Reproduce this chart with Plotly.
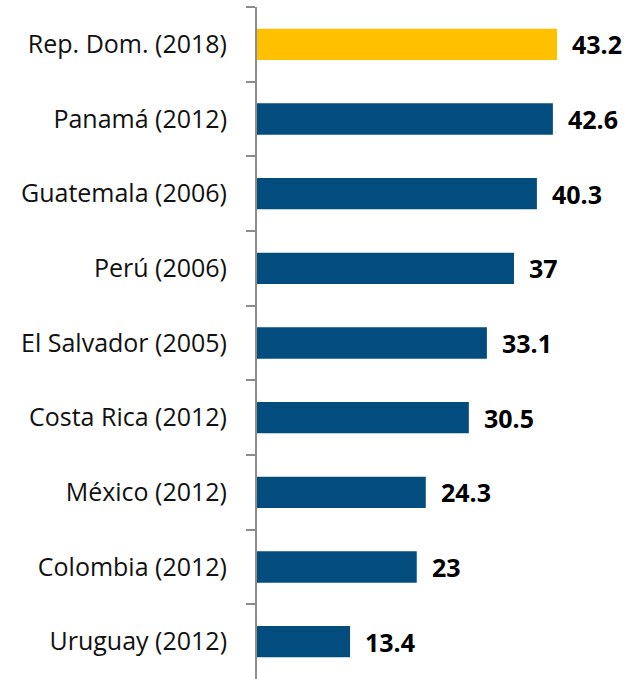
import plotly.graph_objects as go

countries = [
    "Rep. Dom. (2018)",
    "Panamá (2012)",
    "Guatemala (2006)",
    "Perú (2006)",
    "El Salvador (2005)",
    "Costa Rica (2012)",
    "México (2012)",
    "Colombia (2012)",
    "Uruguay (2012)",
]
values = [43.2, 42.6, 40.3, 37, 33.1, 30.5, 24.3, 23, 13.4]
highlight = "Rep. Dom. (2018)"

bar_colors = ["#FFC000" if c == highlight else "#024C7E" for c in countries]

fig = go.Figure(
    go.Bar(
        x=values,
        y=countries,
        orientation="h",
        marker=dict(color=bar_colors, line=dict(width=0)),
        width=0.42,
        hoverinfo="skip",
    )
)

# value labels to the right of each bar
for c, v in zip(countries, values):
    fig.add_annotation(
        x=v, y=c, text=f"<b>{v:g}</b>", showarrow=False,
        xanchor="left", yanchor="middle", xshift=13,
        font=dict(family="Open Sans", size=25, color="#000000"),
    )

fig.update_layout(
    width=639, height=679,
    margin=dict(l=257, r=0, t=7, b=0),
    paper_bgcolor="white", plot_bgcolor="white",
    showlegend=False,
    font=dict(family="Open Sans", size=25, color="#111111"),
)
fig.update_xaxes(range=[0, 55], visible=False, fixedrange=True)
fig.update_yaxes(
    autorange="reversed",
    showline=True, linecolor="#8c8c8c", linewidth=2,
    ticks="outside", tickson="boundaries", ticklen=9, tickwidth=2, tickcolor="#8c8c8c",
    ticklabelstandoff=23,
    showgrid=False, zeroline=False,
    tickfont=dict(family="Open Sans", size=25, color="#111111"),
)

fig.write_html("out.html")
